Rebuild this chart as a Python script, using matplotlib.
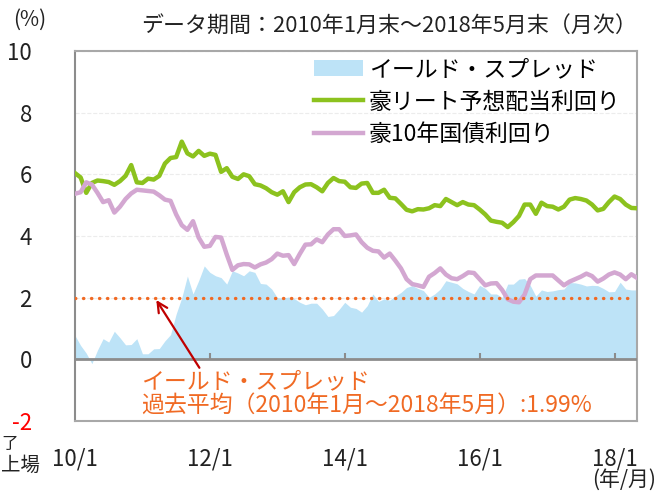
import numpy as np
import matplotlib
matplotlib.use("Agg")
import matplotlib.pyplot as plt
from matplotlib.patches import Patch
from matplotlib.lines import Line2D

plt.rcParams['font.family'] = ['Noto Sans CJK JP', 'DejaVu Sans']

# monthly data, 2010/1 .. 2018/5
reit_yield = [
    6.04, 5.90, 5.40, 5.72, 5.80, 5.78, 5.75, 5.66, 5.78, 5.95,
    6.30, 5.74, 5.72, 5.86, 5.83, 5.95, 6.35, 6.53, 6.56, 7.06,
    6.68, 6.58, 6.76, 6.60, 6.67, 6.63, 6.08, 6.20, 5.92, 5.85,
    6.00, 5.94, 5.68, 5.64, 5.55, 5.42, 5.34, 5.45, 5.10, 5.42,
    5.58, 5.67, 5.68, 5.58, 5.45, 5.72, 5.88, 5.78, 5.76, 5.58,
    5.56, 5.70, 5.72, 5.40, 5.40, 5.50, 5.24, 5.22, 5.04, 4.85,
    4.80, 4.87, 4.86, 4.90, 5.00, 4.97, 5.20, 5.10, 5.00, 5.10,
    5.02, 5.00, 4.86, 4.70, 4.50, 4.46, 4.43, 4.29, 4.45, 4.65,
    5.02, 5.02, 4.72, 5.08, 4.97, 4.95, 4.86, 4.95, 5.18, 5.23,
    5.20, 5.15, 5.02, 4.83, 4.88, 5.10, 5.28, 5.20, 5.02, 4.91,
    4.90,
]
bond_yield = [
    5.37, 5.42, 5.74, 5.67, 5.40, 5.10, 5.16, 4.76, 4.95, 5.20,
    5.38, 5.50, 5.48, 5.46, 5.44, 5.32, 5.18, 5.14, 4.70, 4.35,
    4.20, 4.48, 3.95, 3.65, 3.68, 3.97, 3.95, 3.40, 2.90, 3.05,
    3.09, 3.08, 2.98, 3.08, 3.14, 3.25, 3.43, 3.36, 3.38, 3.09,
    3.42, 3.72, 3.73, 3.89, 3.80, 4.05, 4.22, 4.22, 4.00, 4.02,
    4.05, 3.80, 3.62, 3.52, 3.50, 3.30, 3.43, 3.20, 2.95, 2.60,
    2.44, 2.40, 2.35, 2.68, 2.80, 2.95, 2.75, 2.63, 2.60, 2.70,
    2.82, 2.80, 2.60, 2.40, 2.46, 2.47, 2.25, 1.95, 1.87, 1.85,
    2.10, 2.60, 2.72, 2.72, 2.72, 2.72, 2.56, 2.40, 2.52, 2.60,
    2.68, 2.78, 2.70, 2.52, 2.62, 2.75, 2.82, 2.75, 2.60, 2.76,
    2.64,
]
spread = [
    0.77, 0.45, 0.20, -0.14, 0.30, 0.67, 0.56, 0.91, 0.70, 0.47,
    0.48, 0.67, 0.18, 0.18, 0.34, 0.35, 0.60, 0.80, 1.47, 2.00,
    2.70, 2.12, 2.55, 3.03, 2.82, 2.71, 2.65, 2.44, 2.87, 2.80,
    2.71, 2.87, 2.82, 2.46, 2.44, 2.28, 2.00, 1.99, 2.02, 1.97,
    1.85, 1.77, 1.82, 1.82, 1.63, 1.39, 1.42, 1.62, 1.85, 1.69,
    1.65, 1.53, 1.74, 2.12, 1.88, 1.96, 1.92, 2.05, 2.17, 2.33,
    2.39, 2.30, 2.23, 2.01, 2.12, 2.28, 2.55, 2.50, 2.45, 2.30,
    2.20, 2.12, 2.40, 2.30, 2.12, 2.12, 2.01, 2.44, 2.44, 2.60,
    2.62, 2.40, 2.05, 2.25, 2.20, 2.22, 2.26, 2.28, 2.49, 2.48,
    2.44, 2.38, 2.40, 2.39, 2.30, 2.19, 2.20, 2.50, 2.28, 2.25,
    2.25,
]
spread_avg = 1.99

xtick_pos = [0, 24, 48, 72, 96]
xtick_labels = ['10/1', '12/1', '14/1', '16/1', '18/1']
ytick_pos = [-2, 0, 2, 4, 6, 8, 10]

GREEN = '#8cc21e'
PURPLE = '#d3a7d1'
BLUE = '#bde3f7'
ORANGE = '#f06a24'
TXT = '#222222'

x = np.arange(len(spread))

fig = plt.figure(figsize=(6.71, 4.92), dpi=100)
ax = fig.add_axes([75 / 671, 1 - 421 / 492, 562 / 671, 370 / 492])

ax.fill_between(x, spread, 0, color=BLUE, linewidth=0, zorder=1)
ax.plot(x, reit_yield, color=GREEN, lw=3.2, solid_joinstyle='round', zorder=3)
ax.plot(x, bond_yield, color=PURPLE, lw=3.2, solid_joinstyle='round', zorder=3)

ax.axhline(spread_avg, xmin=0, xmax=0.99, color=ORANGE, lw=2.4,
           linestyle=(0, (0.1, 2.3)), dash_capstyle='round', zorder=4)

ax.set_xlim(0, 100)
ax.set_ylim(-2, 10)
ax.set_yticks(ytick_pos)
ax.set_yticklabels([str(v) for v in ytick_pos])
ax.set_xticks(xtick_pos)
ax.set_xticklabels(xtick_labels)
ax.tick_params(axis='x', length=0, pad=19, labelsize=16, colors=TXT)
ax.tick_params(axis='y', length=0, pad=31, labelsize=16, colors=TXT)
ax.get_yticklabels()[0].set_color('red')

ax.grid(axis='y', color='#ececec', lw=0.8, ls='--')
ax.set_axisbelow(True)

for s in ax.spines.values():
    s.set_color('#a8a8a8')
    s.set_linewidth(1.5)
ax.spines['left'].set_color('#8c8c8c')

# zero line with small tick marks
ax.axhline(0, color='#8c8c8c', lw=2, zorder=5)
ax.vlines(xtick_pos[1:], 0, 0.22, color='#8c8c8c', lw=1.5, zorder=5)

ax.annotate('', xy=(14.2, 2.0), xytext=(22.4, -0.35),
            arrowprops=dict(arrowstyle='->', color='#c00000', lw=1.6,
                            mutation_scale=18), zorder=6)
ax.text(11.8, -0.35, 'イールド・スプレッド\n過去平均（2010年1月～2018年5月）:1.99%',
        color=ORANGE, fontsize=16.5, va='top', ha='left', linespacing=1.05,
        zorder=6)

handles = [Patch(facecolor=BLUE, edgecolor='none'),
           Line2D([], [], color=GREEN, lw=3.2),
           Line2D([], [], color=PURPLE, lw=3.2)]
labels = ['イールド・スプレッド', '豪リート予想配当利回り', '豪10年国債利回り']
fig.legend(handles, labels, loc='upper left',
           bbox_to_anchor=(314 / 671, 1 - 58 / 492), frameon=False,
           fontsize=16.5, handlelength=2.15, handleheight=0.75,
           handletextpad=0.25, labelspacing=0.42, borderaxespad=0,
           borderpad=0)

fig.text(637 / 671, 1 - 26 / 492, 'データ期間：2010年1月末～2018年5月末（月次）',
         ha='right', va='center', fontsize=15.8, color=TXT)
fig.text(30 / 671, 1 - 20 / 492, '(%)', ha='center', va='center',
         fontsize=15, color=TXT)
fig.text(624 / 671, 1 - 480 / 492, '(年/月)', ha='center', va='center',
         fontsize=15, color=TXT)
fig.text(1 / 671, 1 - 444 / 492, '了', ha='left', va='center',
         fontsize=12, color=TXT)
fig.text(1 / 671, 1 - 465 / 492, '上場', ha='left', va='center',
         fontsize=14, color=TXT)

fig.savefig('out.png', dpi=100)
